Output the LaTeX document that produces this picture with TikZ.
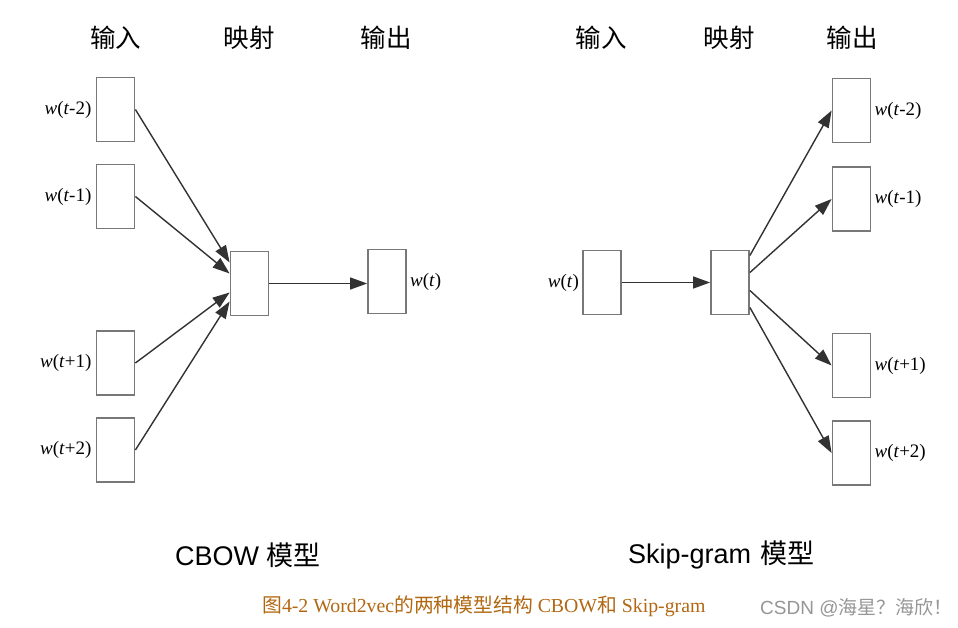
\documentclass[tikz,border=0pt]{standalone}
\usepackage{fontspec}
\setmainfont{Liberation Serif}
\newfontfamily\cjk{Noto Sans CJK SC}
\newfontfamily\lsans{Liberation Sans}
\usetikzlibrary{arrows.meta}
\definecolor{boxgray}{RGB}{120,120,120}
\definecolor{arrgray}{RGB}{50,50,50}
\definecolor{capbrown}{RGB}{178,104,18}
\definecolor{markgray}{RGB}{150,150,150}
\tikzset{
  vec/.style={draw=boxgray, line width=1.8pt, fill=white, minimum width=38pt, minimum height=64pt, inner sep=0pt},
  arr/.style={draw=arrgray, line width=1.4pt, -{Triangle[length=17pt,width=12pt]}},
  lab/.style={inner sep=0pt, font=\fontsize{19}{22}\selectfont},
  head/.style={inner sep=0pt, font=\cjk\fontsize{25.5}{28}\selectfont},
  title/.style={inner sep=0pt, font=\fontsize{27}{30}\selectfont},
}
\begin{document}
\begin{tikzpicture}[x=1pt,y=-1pt]
\useasboundingbox[fill=white] (0,0) rectangle (958,628);
% headers
\node[head] (h1) at (115.5,38) {输入};
\node[head] (h2) at (249,38) {映射};
\node[head] (h3) at (386,38) {输出};
\node[head] (h4) at (601,38) {输入};
\node[head] (h5) at (729,38) {映射};
\node[head] (h6) at (852,38) {输出};
% CBOW
\node[vec] (L1) at (115.5,109.5) {};
\node[vec] (L2) at (115.5,196.5) {};
\node[vec] (L3) at (115.5,363) {};
\node[vec] (L4) at (115.5,450) {};
\node[vec] (LP) at (249.5,283.5) {};
\node[vec] (LO) at (387,281.5) {};
\node[lab, anchor=east] (l1) at ([xshift=-4pt]L1.west) {\textit{w}(\textit{t}-2)};
\node[lab, anchor=east] (l2) at ([xshift=-4pt]L2.west) {\textit{w}(\textit{t}-1)};
\node[lab, anchor=east] (l3) at ([xshift=-4pt]L3.west) {\textit{w}(\textit{t}+1)};
\node[lab, anchor=east] (l4) at ([xshift=-4pt]L4.west) {\textit{w}(\textit{t}+2)};
\node[lab, anchor=west] (lo) at ([xshift=3pt]LO.east) {\textit{w}(\textit{t})};
\draw[arr] (L1.east) -- ([yshift=21pt]LP.west);
\draw[arr] (L2.east) -- ([yshift=10pt]LP.west);
\draw[arr] (L3.east) -- ([yshift=-9pt]LP.west);
\draw[arr] (L4.east) -- ([yshift=-18pt]LP.west);
\draw[arr] (LP.east) -- (LP.east -| LO.west);
% Skip-gram
\node[vec] (RI) at (602,282.5) {};
\node[vec] (RP) at (730,282.5) {};
\node[vec] (R1) at (851.5,110.5) {};
\node[vec] (R2) at (851.5,199) {};
\node[vec] (R3) at (851.5,365.5) {};
\node[vec] (R4) at (851.5,453) {};
\node[lab, anchor=east] (ri) at ([xshift=-3pt]RI.west) {\textit{w}(\textit{t})};
\node[lab, anchor=west] (r1) at ([xshift=3pt]R1.east) {\textit{w}(\textit{t}-2)};
\node[lab, anchor=west] (r2) at ([xshift=3pt]R2.east) {\textit{w}(\textit{t}-1)};
\node[lab, anchor=west] (r3) at ([xshift=3pt]R3.east) {\textit{w}(\textit{t}+1)};
\node[lab, anchor=west] (r4) at ([xshift=3pt]R4.east) {\textit{w}(\textit{t}+2)};
\draw[arr] (RI.east) -- (RP.west);
\draw[arr] ([yshift=27pt]RP.east) -- (R1.west);
\draw[arr] ([yshift=10pt]RP.east) -- (R2.west);
\draw[arr] ([yshift=-8pt]RP.east) -- (R3.west);
\draw[arr] ([yshift=-25pt]RP.east) -- (R4.west);
% titles
\node[title, anchor=west] (t1) at (175,555) {\lsans CBOW {\cjk 模型}};
\node[title, anchor=west] (t2) at (628,555) {\lsans Skip-gram\hspace{2pt} {\cjk 模型}};
% caption
\node[inner sep=0pt, anchor=west, text=capbrown, font=\fontsize{19.8}{22}\selectfont] (cap) at (262,606)
  {{\cjk 图}4-2 Word2vec{\cjk 的两种模型结构} CBOW{\cjk 和} Skip-gram};
\node[inner sep=0pt, anchor=west, text=markgray, font=\fontsize{19}{22}\selectfont] (mark) at (760,608)
  {\lsans CSDN @{\cjk 海星？海欣！}};
\end{tikzpicture}
\end{document}
